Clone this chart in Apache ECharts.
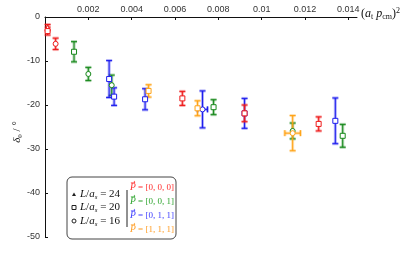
<!DOCTYPE html>
<html><head><meta charset="utf-8">
<script src="https://cdn.jsdelivr.net/npm/echarts@6/dist/echarts.min.js"></script>
<style>html,body{margin:0;padding:0;background:#fff}#c{width:415px;height:256px}</style>
</head><body><div id="c"></div>
<script>
// ---- data ----
const xTicks = [0.002, 0.004, 0.006, 0.008, 0.010, 0.012, 0.014];
const xTickLabels = ['0.002', '0.004', '0.006', '0.008', '0.01', '0.012', '0.014'];
const yTicks = [0, -10, -20, -30, -40, -50];

// P = [0,0,0]
const redX    = [0.00012, 0.00012, 0.00049, 0.00634, 0.00921, 0.01263];
const redY    = [-2.4, -3.2, -6.1, -18.5, -21.9, -24.3];
const redYErr = [0.7, 0.9, 1.3, 1.6, 1.9, 1.6];
const redXErr = [0, 0, 0, 0, 0, 0];
const redL    = [24, 20, 16, 20, 20, 20];
// P = [0,0,1]
const greenX    = [0.00134, 0.00200, 0.00308, 0.00778, 0.01143, 0.01374];
const greenY    = [-7.9, -12.95, -15.5, -20.5, -25.9, -27.0];
const greenYErr = [2.3, 1.5, 2.3, 1.7, 1.8, 2.6];
const greenXErr = [0, 0, 0, 0, 0, 0];
const greenL    = [20, 16, 16, 20, 16, 20];
// P = [0,1,1]
const blueX    = [0.00296, 0.00319, 0.00462, 0.00727, 0.00921, 0.01340];
const blueY    = [-14.1, -18.1, -18.7, -21.0, -21.9, -23.6];
const blueYErr = [4.2, 2.0, 2.4, 4.2, 3.4, 5.2];
const blueXErr = [0, 0, 0, 0.00023, 0, 0];
const blueL    = [20, 20, 20, 16, 20, 20];
// P = [1,1,1]
const orangeX    = [0.00478, 0.00704, 0.01143];
const orangeY    = [-16.8, -20.75, -26.4];
const orangeYErr = [1.4, 1.7, 4.0];
const orangeXErr = [0, 0, 0.00036];
const orangeL    = [20, 20, 16];

const sizeLabels = ['L/a_s = 24', 'L/a_s = 20', 'L/a_s = 16'];
const momLabels = ['[0, 0, 0]', '[0, 0, 1]', '[0, 1, 1]', '[1, 1, 1]'];

// ---- build ----
const groups = [
  {x: redX, y: redY, ye: redYErr, xe: redXErr, L: redL, c: '#ee1a1a', z: 6},
  {x: greenX, y: greenY, ye: greenYErr, xe: greenXErr, L: greenL, c: '#16881a', z: 2},
  {x: blueX, y: blueY, ye: blueYErr, xe: blueXErr, L: blueL, c: '#1c1cee', z: 2},
  {x: orangeX, y: orangeY, ye: orangeYErr, xe: orangeXErr, L: orangeL, c: '#ffa214', z: 2}
];
const textColors = ['#ff2e2e', '#2ea42e', '#3c3cff', '#ff9c22'];
const symFor = L => L === 24 ? 'triangle' : (L === 20 ? 'rect' : 'circle');

function renderErr(params, api) {
  const x = api.value(0), y = api.value(1), xe = api.value(2), ye = api.value(3);
  const color = api.visual('color');
  const c = api.coord([x, y]);
  const segs = [];
  const cap = 3;
  if (ye > 0) {
    const t = api.coord([x, y + ye])[1], b = api.coord([x, y - ye])[1];
    segs.push([c[0], t, c[0], b]);
    segs.push([c[0] - cap, t, c[0] + cap, t]);
    segs.push([c[0] - cap, b, c[0] + cap, b]);
  }
  if (xe > 0) {
    const l = api.coord([x - xe, y])[0], r = api.coord([x + xe, y])[0];
    segs.push([l, c[1], r, c[1]]);
    segs.push([l, c[1] - cap, l, c[1] + cap]);
    segs.push([r, c[1] - cap, r, c[1] + cap]);
  }
  const children = [];
  segs.forEach(s => children.push({type: 'line', shape: {x1: s[0], y1: s[1], x2: s[2], y2: s[3]},
    style: {stroke: color, lineWidth: 3, opacity: 0.35}}));
  segs.forEach(s => children.push({type: 'line', shape: {x1: s[0], y1: s[1], x2: s[2], y2: s[3]},
    style: {stroke: color, lineWidth: 1}}));
  return {type: 'group', children};
}

const series = [];
groups.forEach(g => {
  const rows = g.x.map((v, i) => [v, g.y[i], g.xe[i], g.ye[i], g.L[i]]);
  series.push({type: 'custom', renderItem: renderErr, data: rows, encode: {x: 0, y: 1},
    itemStyle: {color: g.c}, z: g.z, silent: true});
  series.push({type: 'scatter', data: rows, symbol: v => symFor(v[4]),
    symbolSize: 5,
    itemStyle: {color: '#fff', borderColor: g.c, borderWidth: 1, opacity: 1}, z: g.z + 1, silent: true});
});

const serif = 'Liberation Serif';
const graphic = [
  {type: 'text', left: 361, top: 7, style: {
    text: '({i|a}{s|t} {i|p}{s|cm}){p|2}', font: '12px ' + serif, fill: '#111',
    rich: {
      i: {fontFamily: serif, fontStyle: 'italic', fontSize: 12, lineHeight: 14},
      s: {fontFamily: serif, fontSize: 8, lineHeight: 8, verticalAlign: 'bottom'},
      p: {fontFamily: serif, fontSize: 8, lineHeight: 8, verticalAlign: 'top'}
    }}},
  {type: 'text', x: 17, y: 132, rotation: Math.PI / 2, style: {
    text: '{i|δ}{s|0} / °', font: '11px ' + serif, fill: '#111', align: 'center', verticalAlign: 'middle',
    rich: {
      i: {fontFamily: serif, fontStyle: 'italic', fontSize: 11, lineHeight: 13},
      s: {fontFamily: serif, fontSize: 7, lineHeight: 7, verticalAlign: 'bottom'}
    }}},
  {type: 'rect', shape: {x: 67, y: 177, width: 109, height: 62, r: 5},
    style: {fill: '#fff', stroke: '#444', lineWidth: 1}, z: 10},
  {type: 'line', shape: {x1: 127, y1: 190, x2: 127, y2: 227},
    style: {stroke: '#222', lineWidth: 1}, z: 11}
];
const legRowsL = [194, 207.5, 221];
const syms = [
  {type: 'polygon', shape: {points: [[72, 196], [76, 196], [74, 192.5]]}, style: {fill: '#222'}},
  {type: 'rect', shape: {x: 72, y: 205.5, width: 4, height: 4}, style: {fill: '#fff', stroke: '#222', lineWidth: 1}},
  {type: 'circle', shape: {cx: 74, cy: 221, r: 2}, style: {fill: '#fff', stroke: '#222', lineWidth: 1}}
];
syms.forEach(s => { s.z = 11; graphic.push(s); });
sizeLabels.forEach((lab, i) => {
  const m = lab.match(/^L\/a_s = (\d+)$/);
  graphic.push({type: 'text', x: 80, y: legRowsL[i], z: 11, style: {
    text: '{i|L}/{i|a}{s|s} = ' + m[1], font: '11px ' + serif, fill: '#111', verticalAlign: 'middle',
    rich: {
      i: {fontFamily: serif, fontStyle: 'italic', fontSize: 11, lineHeight: 13},
      s: {fontFamily: serif, fontStyle: 'italic', fontSize: 7, lineHeight: 7, verticalAlign: 'bottom'}
    }}});
});
const legRowsR = [187.5, 201.5, 215.5, 229.5];
momLabels.forEach((lab, i) => {
  graphic.push({type: 'text', x: 130, y: legRowsR[i], z: 11, style: {
    text: '{i|P} = ' + lab, font: '9px ' + serif, fill: textColors[i], verticalAlign: 'middle',
    rich: {i: {fontFamily: serif, fontStyle: 'italic', fontSize: 9.5, lineHeight: 11}}}});
  graphic.push({type: 'text', x: 130.5, y: legRowsR[i] - 5.5, z: 11, style: {
    text: '→', font: '6px DejaVu Sans', fill: textColors[i], verticalAlign: 'middle'}});
});

const chart = echarts.init(document.getElementById('c'), null, {renderer: 'canvas'});
chart.setOption({
  animation: false,
  backgroundColor: '#fff',
  grid: {left: 45, right: 58, top: 17, bottom: 19, containLabel: false},
  xAxis: {
    type: 'value', position: 'top', min: 0, max: 0.0144, interval: 0.002,
    axisLine: {show: true, lineStyle: {color: '#111', width: 1}},
    axisTick: {show: true, inside: true, length: 3, customValues: xTicks, lineStyle: {color: '#111'}},
    axisLabel: {show: true, customValues: xTicks, margin: 3, fontSize: 9, color: '#333',
      fontFamily: 'Liberation Sans',
      formatter: v => { const k = xTicks.findIndex(t => Math.abs(t - v) < 1e-9); return k >= 0 ? xTickLabels[k] : ''; }},
    splitLine: {show: false}
  },
  yAxis: {
    type: 'value', min: -50, max: 0, interval: 10,
    axisLine: {show: true, onZero: false, lineStyle: {color: '#111', width: 1}},
    axisTick: {show: true, inside: true, length: 3, customValues: yTicks, lineStyle: {color: '#111'}},
    axisLabel: {show: true, customValues: yTicks, margin: 5, fontSize: 9, color: '#333', fontFamily: 'Liberation Sans'},
    splitLine: {show: false}
  },
  graphic: graphic,
  series: series
});
</script>
</body></html>
